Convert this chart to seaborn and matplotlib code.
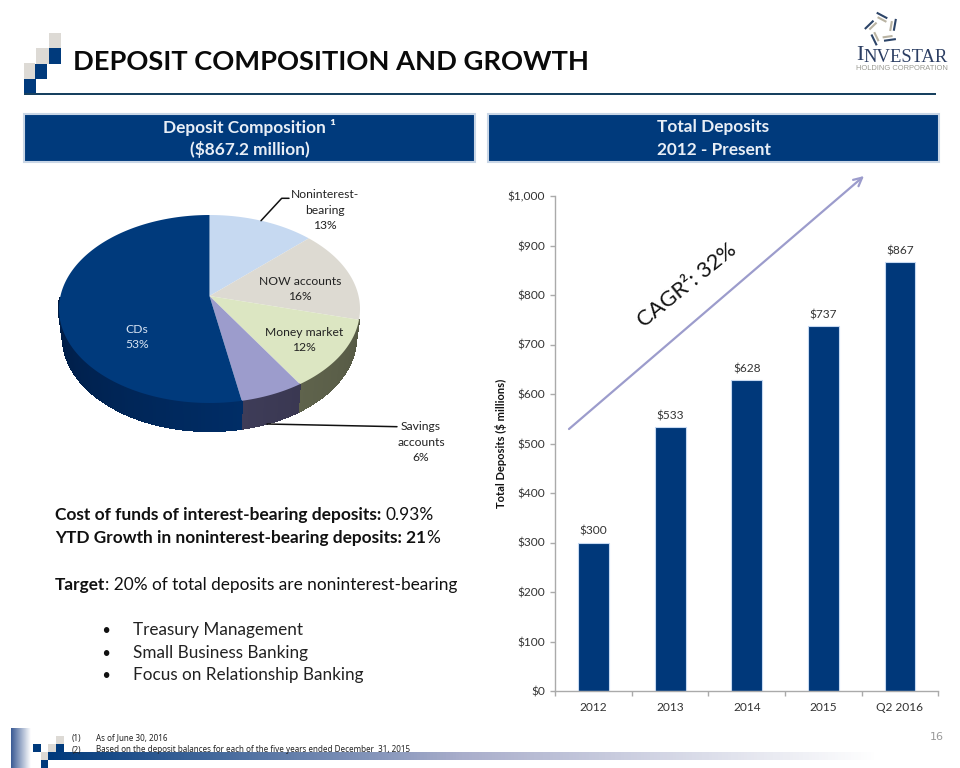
import numpy as np
import pandas as pd
import matplotlib
matplotlib.use("Agg")
import matplotlib.pyplot as plt
from matplotlib.path import Path
from matplotlib.patches import Rectangle
from matplotlib.collections import PolyCollection
from matplotlib.colors import LinearSegmentedColormap, to_rgb
import seaborn as sns

# ---------- data ----------
years = ["2012", "2013", "2014", "2015", "Q2 2016"]
deposits = [300, 533, 628, 737, 867]
yticks = [0, 100, 200, 300, 400, 500, 600, 700, 800, 900, 1000]

slice_names = ["Noninterest-\nbearing", "NOW accounts", "Money market", "Savings\naccounts", "CDs"]
slice_values = [13, 16, 12, 6, 53]
slice_colors = ["#C6D9F1", "#DDDAD2", "#DCE6C2", "#9C9CCC", "#003A7C"]

NAVY = "#00387A"
sns.set_theme(style="white")
plt.rcParams["font.family"] = ["Lato", "DejaVu Sans"]
W, H = 960, 768
fig = plt.figure(figsize=(W / 100, H / 100), dpi=100, facecolor="white")


def axes_px(x0, y0, x1, y1, **kw):
    return fig.add_axes([x0 / W, 1 - y1 / H, (x1 - x0) / W, (y1 - y0) / H], **kw)


# ---------- bars ----------
ax = axes_px(555.3, 196, 938.3, 691)
df = pd.DataFrame({"year": years, "deposits": deposits})
sns.barplot(data=df, x="year", y="deposits", order=years, color=NAVY, saturation=1,
            width=0.4, edgecolor="#C6D9F1", linewidth=0.8, ax=ax)
ax.set_xlim(-0.5, len(years) - 0.5)
ax.set_ylim(0, 1000)
ax.set_yticks(yticks)
ax.set_yticklabels([f"${v:,}" for v in yticks])
ax.set_xlabel("")
ax.set_ylabel("")
ax.set_xticks(np.arange(-0.5, len(years)), minor=True)
ax.tick_params(axis="x", which="major", length=0, labelsize=8.6, labelcolor="#333333", pad=8)
ax.tick_params(axis="x", which="minor", length=3.5, color="#AAAAAA", width=1, bottom=True)
ax.tick_params(axis="y", length=3.5, color="#AAAAAA", width=1, left=True, labelsize=8.6,
               labelcolor="#333333", pad=4)
for s in ("top", "right"):
    ax.spines[s].set_visible(False)
for s in ("left", "bottom"):
    ax.spines[s].set_color("#AAAAAA")
    ax.spines[s].set_linewidth(1)
ax.bar_label(ax.containers[0], labels=[f"${v}" for v in deposits], padding=4,
             fontsize=8.6, color="#333333")

# ---------- 3D-looking pie: ordinary pie, then a perspective shift of its apex ----------
pie = axes_px(59, 215, 360, 403)
wedges, _ = pie.pie(slice_values, colors=slice_colors, startangle=90, counterclock=False, radius=1)
pie.set_aspect("auto")
pie.set_xlim(-1, 1)
pie.set_ylim(-1, 1)
pie.axis("off")
A = 0.138
S = np.sqrt(1 - A ** 2)
DEPTH = 28 / 94


def project(t):
    x, y = np.cos(t), np.sin(t)
    d = 1 + A * y
    return x * S / d, (y + A) / d


wall_colors = [None, None, ("#5F634C", "#565A45"), ("#3E3C58", "#3A3852"), ("#001B42", "#002D66")]
for w, wc in zip(wedges, wall_colors):
    t = np.radians(np.linspace(w.theta1, w.theta2, 160))
    X, Y = project(t)
    verts = np.vstack([[0, A], np.column_stack([X, Y]), [0, A]])
    w._path = Path(verts, closed=False)
    w.set_clip_on(False)
    w.set_linewidth(0)
    w.set_zorder(3)
    if wc is None:
        continue
    polys, cols = [], []
    c0, c1 = np.array(to_rgb(wc[0])), np.array(to_rgb(wc[1]))
    keep = np.where(Y < 0.12)[0]
    n = len(keep)
    for i, (a, b) in enumerate(zip(keep[:-1], keep[1:])):
        if b != a + 1:
            continue
        polys.append([(X[a], Y[a]), (X[b], Y[b]),
                      (X[b] * 0.975, Y[b] - DEPTH), (X[a] * 0.975, Y[a] - DEPTH)])
        cols.append(c0 + (c1 - c0) * i / max(n - 1, 1))
    pc = PolyCollection(polys, facecolors=cols, edgecolors=cols, linewidths=0.8,
                        zorder=2, clip_on=False, antialiaseds=False)
    pie.add_collection(pc)

# ---------- overlay in pixel coordinates ----------
ov = fig.add_axes([0, 0, 1, 1], zorder=10)
ov.patch.set_alpha(0)
ov.axis("off")


def box(x0, y0, x1, y1, color, **kw):
    ov.add_patch(Rectangle((x0, y0), x1 - x0, y1 - y0, facecolor=color, linewidth=0, **kw))


def runs(x, y, parts, size, color="#111111"):
    r = fig.canvas.get_renderer()
    for txt, weight in parts:
        t = ov.text(x, y, txt, fontsize=size, fontweight=weight, color=color, ha="left", va="center")
        ov.set_xlim(0, W)
        ov.set_ylim(H, 0)
        x = t.get_window_extent(r).x1


ov.set_xlim(0, W)
ov.set_ylim(H, 0)

GREY = "#DDDAD5"
# title squares
for x0, y0, x1, y1, c in [(49, 33, 61, 48, GREY), (49, 48, 61, 64, "#003A7C"), (36, 48, 49, 64, GREY),
                          (35, 64, 47, 79, "#003A7C"), (24, 63, 35, 79, GREY), (24, 79, 36, 95, "#003A7C")]:
    box(x0, y0, x1, y1, c)
box(24, 93, 936, 95, "#17405F")
ov.text(73, 62, "DEPOSIT COMPOSITION AND GROWTH", fontsize=19.6, fontweight="bold",
        color="#0A0A0A", ha="left", va="center")

# section headers
for x0, x1, l1, l2 in [(24, 475, "Deposit Composition ¹", "($867.2 million)"),
                       (488, 939, "Total Deposits", "2012 - Present")]:
    ov.add_patch(Rectangle((x0, 114), x1 - x0, 48, facecolor="#003A7C", edgecolor="#C9D6E6", linewidth=1.5))
    ov.text((x0 + x1) / 2, 127, l1, fontsize=12.4, fontweight="bold", color="#E8EEF6", ha="center", va="center")
    ov.text((x0 + x1) / 2, 150, l2, fontsize=12.4, fontweight="bold", color="#E8EEF6", ha="center", va="center")

# pie labels and leaders
lab = dict(fontsize=8.7, ha="center", va="center", linespacing=1.5)
pct = [f"{v}%" for v in slice_values]
ov.text(325, 210, f"{slice_names[0]}\n{pct[0]}", color="#222222", **lab)
ov.text(300, 289, f"{slice_names[1]}\n{pct[1]}", color="#222222", **lab)
ov.text(304, 340, f"{slice_names[2]}\n{pct[2]}", color="#222222", **lab)
ov.text(421, 442, f"{slice_names[3]}\n{pct[3]}", color="#222222", **lab)
ov.text(137, 337, f"{slice_names[4]}\n{pct[4]}", color="#D5E2F2", **lab)
ov.plot([261, 281.7, 289], [220.7, 198.3, 198.3], color="#111111", lw=1.1)
ov.plot([267, 397], [424, 426.7], color="#111111", lw=1.1)

# text block
runs(55, 515, [("Cost of funds of interest-bearing deposits: ", "bold"), ("0.93%", "normal")], 12.5)
runs(55, 538, [("YTD Growth in noninterest-bearing deposits: 21", "bold"), ("%", "normal")], 12.4)
runs(55, 585, [("Target", "bold"), (": 20% of total deposits are noninterest-bearing", "normal")], 12.4)
for y, s in [(630, "Treasury Management"), (653, "Small Business Banking"), (675, "Focus on Relationship Banking")]:
    ov.text(106, y, "•", fontsize=9, fontweight="bold", color="#111111", ha="center", va="center")
    ov.text(133, y, s, fontsize=12.3, color="#222222", ha="left", va="center")

# chart annotations
ov.annotate("", xy=(864, 176), xytext=(569, 429),
            arrowprops=dict(arrowstyle="->", color="#9C9CCC", lw=1.6, mutation_scale=15, shrinkA=0, shrinkB=0))
ov.text(687.5, 285, "CAGR²: 32%", fontsize=15.8, color="#111111", rotation=39,
        rotation_mode="anchor", ha="center", va="center")
ov.text(501, 443, "Total Deposits ($ millions)", fontsize=8, fontweight="bold", color="#111111",
        rotation=90, ha="center", va="center")

# footer
fade = LinearSegmentedColormap.from_list("fade", ["#003A7C", "#A9AECB", "#FFFFFF"])
ov.imshow(np.linspace(0, 1, 256)[None, :], extent=(48, 877, 760, 752), cmap=fade, aspect="auto", zorder=1)
ov.imshow(np.linspace(0, 1, 64)[None, :], extent=(11, 31, 768, 728),
          cmap=LinearSegmentedColormap.from_list("f2", ["#3A5A94", "#FFFFFF"]), aspect="auto", zorder=1)
ov.set_xlim(0, W)
ov.set_ylim(H, 0)
for x0, y0, x1, y1, c in [(56, 736, 64, 744, GREY), (33, 744, 41, 752, "#003A7C"), (48, 744, 56, 752, GREY),
                          (56, 744, 64, 752, "#003A7C"), (41, 752, 48, 760, GREY), (41, 760, 48, 768, "#003A7C")]:
    box(x0, y0, x1, y1, c, zorder=2)
foot = dict(fontsize=5.8, color="#222222", va="center", family="Noto Sans", zorder=3)
ov.text(72, 739, "(1)", **foot)
ov.text(96, 739, "As of June 30, 2016", **foot)
ov.text(72, 750, "(2)", **foot)
ov.text(96, 750, "Based on the deposit balances for each of the five years ended December  31, 2015", **foot)
ov.text(937, 737, "16", fontsize=8, color="#999999", ha="center", va="center", family="DejaVu Sans")

# logo
cx, cy = 882, 29
for k in range(5):
    a = np.radians(90 + 72 * k)
    ux, uy = np.cos(a), -np.sin(a)
    b = a - np.radians(28)
    tx, ty = np.sin(b), np.cos(b)
    for r, col, half in [(13.5, "#2C4468", 6), (9.5, "#B9B3A2", 5)]:
        px, py = cx + ux * r, cy + uy * r
        ov.plot([px - tx * half, px + tx * half], [py - ty * half, py + ty * half], color=col, lw=1.5,
                solid_capstyle="butt")
ov.text(856, 56, "I", fontsize=16, family="Liberation Serif", color="#2C3E63", ha="left", va="center")
ov.text(863, 57, "NVESTAR", fontsize=13.4, family="Liberation Serif", color="#2C3E63", ha="left", va="center")
ov.text(856, 69, "HOLDING CORPORATION", fontsize=5.4, family="Liberation Sans", color="#9A9A92",
        ha="left", va="center")

fig.savefig("out.png", dpi=100, facecolor="white")
